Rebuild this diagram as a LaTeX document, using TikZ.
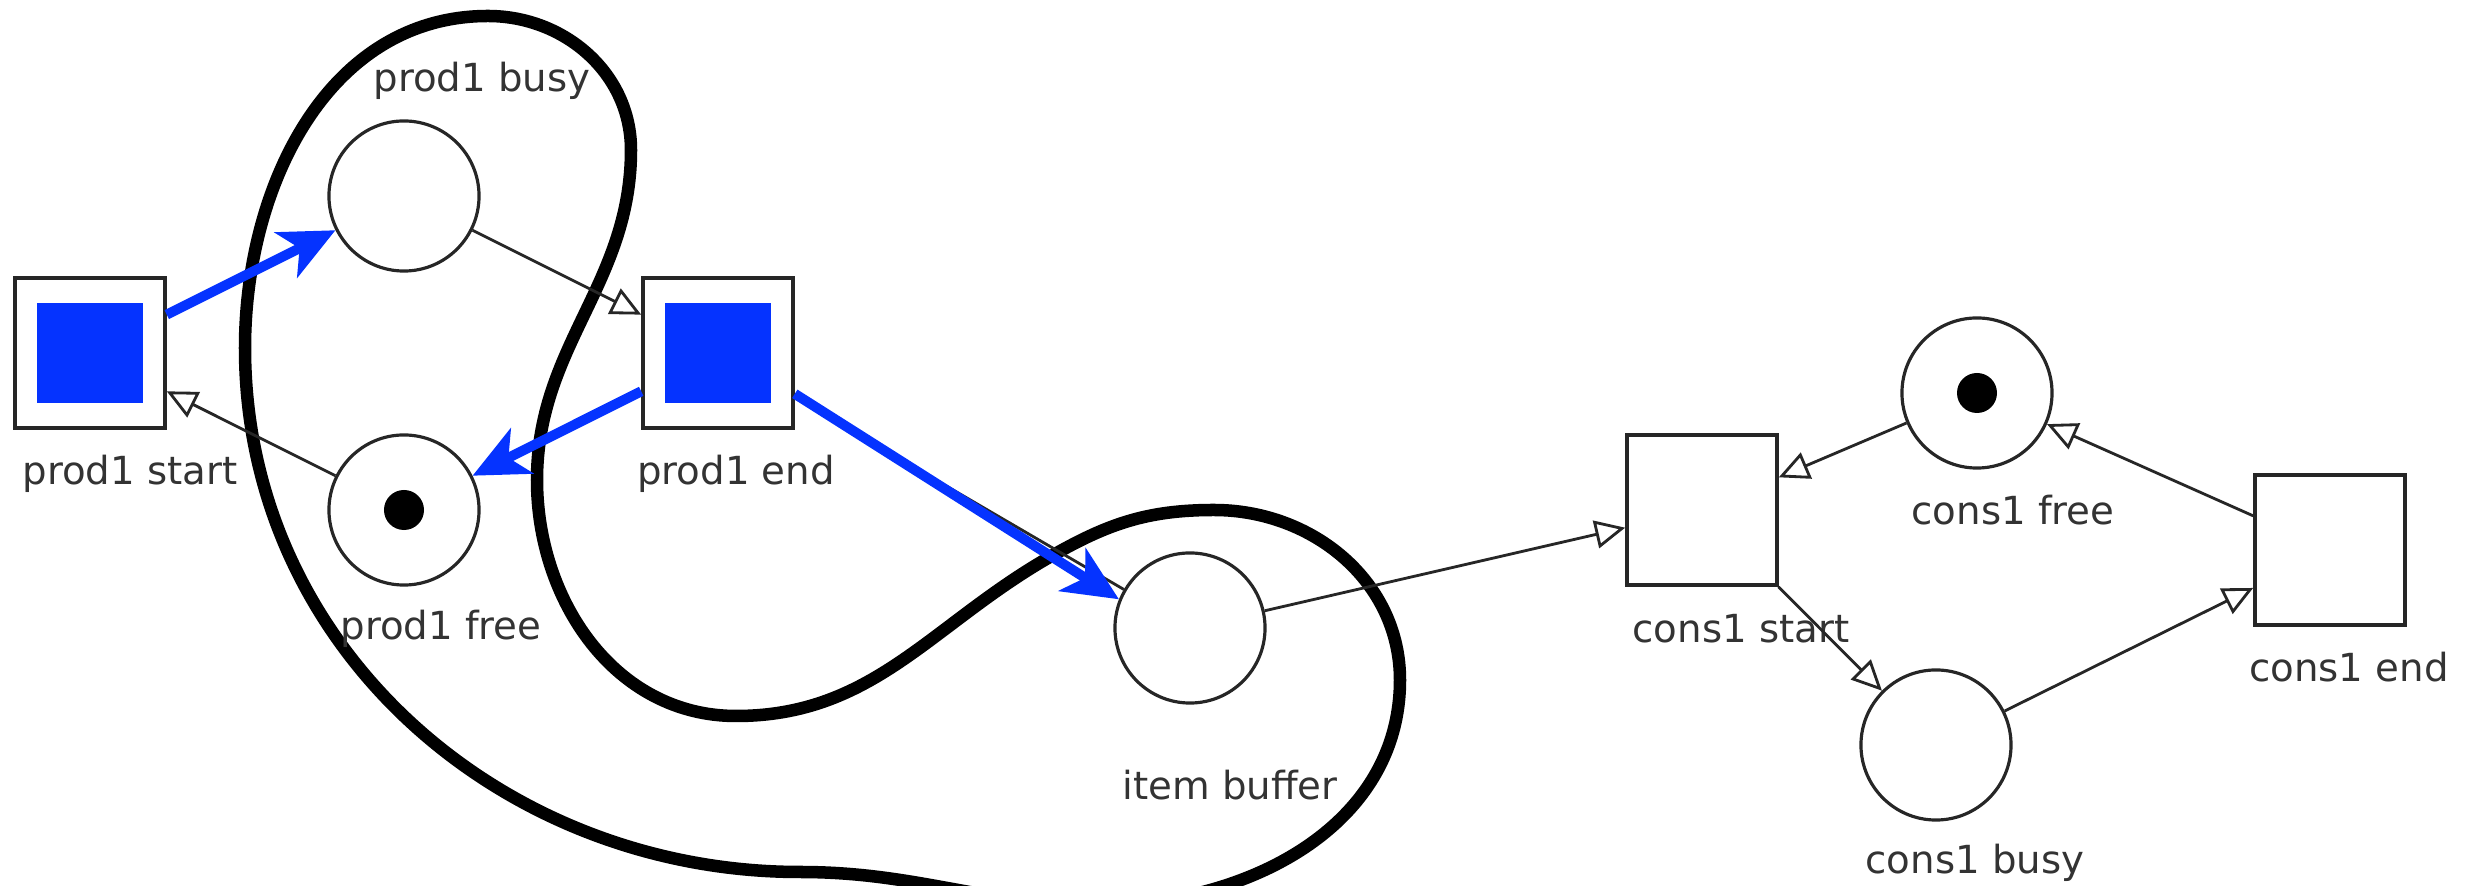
\documentclass[tikz,border=0pt]{standalone}
\usepackage{fontspec}
\setmainfont{DejaVu Sans}
\usetikzlibrary{arrows.meta}

\definecolor{fireblue}{RGB}{5,51,255}

\tikzset{
  every place/.style={circle, draw=black!85, line width=0.9pt, minimum size=1.5cm, inner sep=0pt},
  every trans/.style={rectangle, draw=black!85, line width=1pt, minimum size=1.5cm, inner sep=0pt},
  every token/.style={circle, fill=black, minimum size=0.4cm, inner sep=0pt},
  every fired/.style={rectangle, fill=fireblue, minimum width=1.06cm, minimum height=1cm, inner sep=0pt},
  every caption/.style={font=\fontsize{11}{13}\selectfont, text=black!80, text height=0.76em, text depth=0.24em, inner sep=0pt},
  arc/.style={-{Triangle[open, length=0.3cm, width=0.28cm]}, draw=black!85, line width=0.8pt},
  fire/.style={-{Stealth[length=0.55cm, width=0.5cm, inset=0.15cm]}, draw=fireblue, fill=fireblue, line width=0.1cm},
  region/.style={line width=0.125cm, line join=round}
}

\begin{document}
\begin{tikzpicture}[x=0.01cm, y=-0.01cm, >=stealth]
\useasboundingbox (0,0) rectangle (2474,886);
\clip (0,0) rectangle (2474,886);

% the marked region
\draw [region] (488,16) to [out=0, in=90] (631,150)
  to [out=-90, in=90] (537,480) to [out=-90, in=180] (736,716)
  to [out=0, in=210] (1048,558) to [out=30, in=180] (1214,510)
  to [out=0, in=90] (1400,680) to [out=-90, in=0] (1100,905)
  to [out=180, in=0] (800,872) to [out=180, in=-90] (245,348)
  to [out=90, in=180] cycle;

\foreach \m/\x/\y in {p-busy/404/196, p-free/404/510, buffer/1190/628, c-free/1977/393, c-busy/1936/745}
  \node [every place/.try] (\m) at (\x,\y) {};

\foreach \m/\x/\y in {p-start/90/353, p-end/718/353, c-start/1702/510, c-end/2330/550}
  \node [every trans/.try] (\m) at (\x,\y) {};

\foreach \m in {p-start, p-end}
  \node [every fired/.try] (\m-fill) at (\m) {};

\foreach \m in {p-free, c-free}
  \node [every token/.try] (\m-tok) at (\m) {};

\foreach \m/\l/\x/\y in {p-busy/prod1 busy/482/82, p-start/prod1 start/130/475,
    p-end/prod1 end/736/475, p-free/prod1 free/441/630, buffer/item buffer/1230/790,
    c-free/cons1 free/2013/515, c-start/cons1 start/1741/633,
    c-end/cons1 end/2349/672, c-busy/cons1 busy/1975/864}
  \node [every caption/.try] (\m-lbl) at (\x,\y) {\l};

\foreach \a/\b in {p-busy/p-end, p-free/p-start, buffer/c-start,
    c-free/c-start, c-start/c-busy, c-busy/c-end, c-end/c-free}
  \draw [arc] (\a) -- (\b);

% arc under the fired one
\draw [arc, -] (p-end) -- (buffer);

\draw [fire] (p-start) -- (p-busy);
\draw [fire] (p-end) -- (p-free);
\draw [fire] (p-end.-28) -- (buffer.158);

\end{tikzpicture}
\end{document}
